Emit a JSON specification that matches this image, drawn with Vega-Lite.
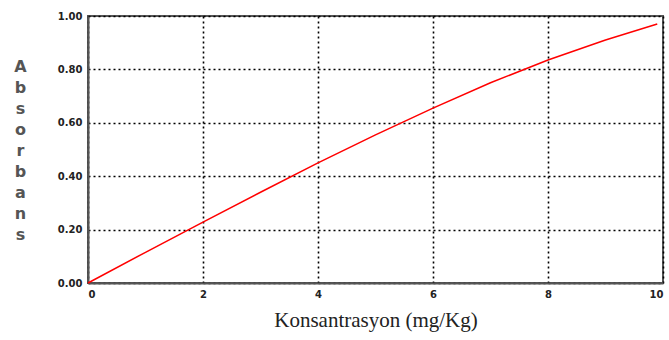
{
  "$schema": "https://vega.github.io/schema/vega-lite/v6.json",
  "width": 575,
  "height": 267,
  "autosize": {"type": "none"},
  "padding": {"left": 88, "top": 16, "right": 6, "bottom": 57},
  "background": "white",
  "config": {
    "view": {"stroke": "#555555", "strokeWidth": 2},
    "axis": {
      "grid": true,
      "gridColor": "black",
      "gridDash": [2, 3],
      "gridWidth": 1.6,
      "domainColor": "#555555",
      "domainWidth": 2,
      "ticks": false,
      "labelFont": "DejaVu Sans",
      "labelFontSize": 10,
      "labelFontWeight": "bold",
      "labelColor": "#222222"
    }
  },
  "data": {
    "values": [
      {"x": 0, "y": 0},
      {"x": 1, "y": 0.115},
      {"x": 2, "y": 0.228},
      {"x": 3, "y": 0.34},
      {"x": 4, "y": 0.45},
      {"x": 5, "y": 0.555},
      {"x": 6, "y": 0.655},
      {"x": 7, "y": 0.75},
      {"x": 8, "y": 0.835},
      {"x": 9, "y": 0.91},
      {"x": 9.9, "y": 0.97}
    ]
  },
  "mark": {"type": "line", "color": "#ff0000", "strokeWidth": 1.5},
  "encoding": {
    "x": {
      "field": "x",
      "type": "quantitative",
      "scale": {"domain": [0, 10], "nice": false},
      "axis": {
        "values": [0, 2, 4, 6, 8, 10],
        "labelPadding": 6,
        "title": "Konsantrasyon (mg/Kg)",
        "titleFont": "Liberation Serif",
        "titleFontSize": 21,
        "titleFontWeight": "normal",
        "titleColor": "#222222",
        "titlePadding": 10
      }
    },
    "y": {
      "field": "y",
      "type": "quantitative",
      "scale": {"domain": [0, 1], "nice": false},
      "axis": {
        "values": [0, 0.2, 0.4, 0.6, 0.8, 1.0],
        "format": ".2f",
        "labelPadding": 6,
        "title": ["A", "b", "s", "o", "r", "b", "a", "n", "s"],
        "titleAngle": 0,
        "titleX": -68,
        "titleY": 42,
        "titleAlign": "center",
        "titleBaseline": "top",
        "titleLineHeight": 21,
        "titleFont": "DejaVu Sans",
        "titleFontSize": 16,
        "titleFontWeight": "bold",
        "titleColor": "#555555"
      }
    }
  }
}
